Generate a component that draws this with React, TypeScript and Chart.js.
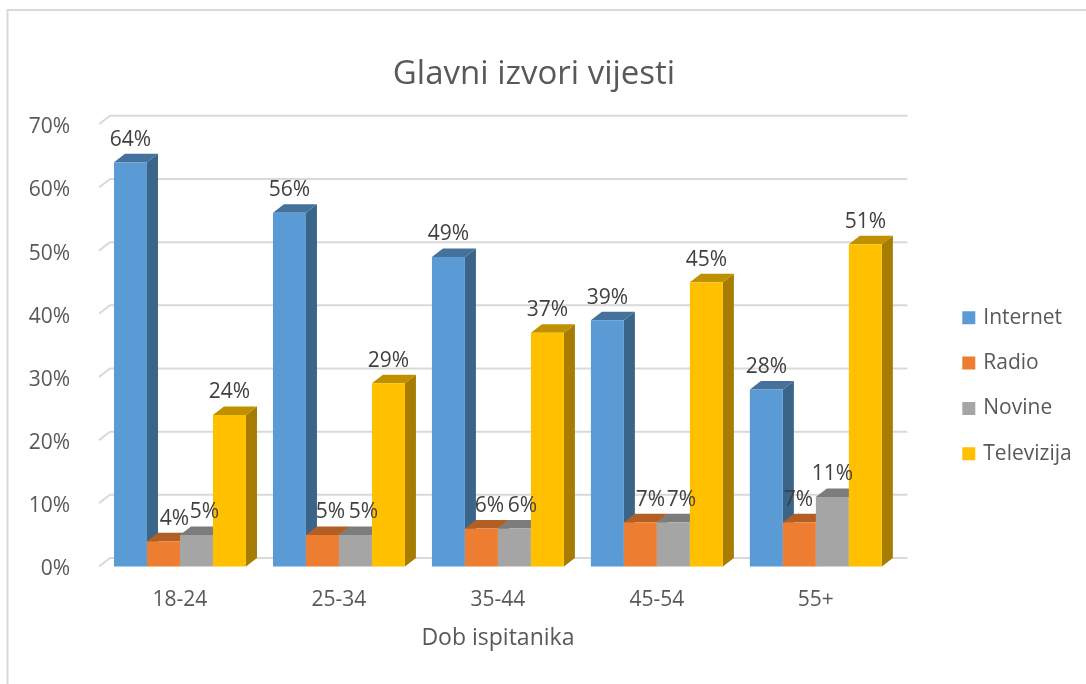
import React, { useEffect, useRef } from "react";
import { Chart, registerables } from "chart.js";

Chart.register(...registerables);

const categories = ["18-24", "25-34", "35-44", "45-54", "55+"];
const internet = [64, 56, 49, 39, 28];
const radio = [4, 5, 6, 7, 7];
const novine = [5, 5, 6, 7, 11];
const televizija = [24, 29, 37, 45, 51];
const seriesNames = ["Internet", "Radio", "Novine", "Televizija"];
const seriesValues = [internet, radio, novine, televizija];

const frontColors = ["#5B9BD5", "#ED7D31", "#A5A5A5", "#FFC000"];
const topColors = ["#44729D", "#B25E25", "#7C7C7C", "#BF9000"];
const sideColors = ["#3B6489", "#9A5120", "#6B6B6B", "#A67D00"];

// Horizontal nudges of the value labels, per series and category (the source chart moved some by hand).
const labelNudges = [
  [0, 0, 0, 0, 0],
  [11, 8, 8, 10, -1],
  [8, 8, 8, 8, 0],
  [0, 0, 0, 0, 0],
];

const FONT = "'Open Sans', 'Noto Sans', sans-serif";
const DX = 11;
const DY = -8.5;

const chart3d = {
  id: "chart3d",
  beforeDraw(chart: any) {
    const { ctx, width, height } = chart;
    ctx.save();
    ctx.fillStyle = "#FFFFFF";
    ctx.fillRect(0, 0, width, height);
    ctx.strokeStyle = "#D9D9D9";
    ctx.lineWidth = 2;
    ctx.beginPath();
    ctx.moveTo(7.5, height);
    ctx.lineTo(7.5, 10);
    ctx.lineTo(width, 10);
    ctx.stroke();
    ctx.restore();
  },
  afterLayout(chart: any) {
    // Title is centred a little left of the canvas centre; legend sits at a fixed spot.
    chart.titleBlock.left = 0;
    chart.titleBlock.right = 1068;
    const lg = chart.legend;
    const w = lg.right - lg.left;
    const h = lg.bottom - lg.top;
    lg.left = 940.5;
    lg.right = 940.5 + w;
    lg.top = 283;
    lg.bottom = 283 + h;
  },
  beforeDatasetsDraw(chart: any) {
    const { ctx, chartArea } = chart;
    const y = chart.scales.y;
    ctx.save();
    ctx.strokeStyle = "#D9D9D9";
    ctx.lineWidth = 2;
    y.ticks.forEach((t: any) => {
      const py = y.getPixelForValue(t.value);
      ctx.beginPath();
      ctx.moveTo(chartArea.left - 1.5, py);
      ctx.lineTo(chartArea.left - 1.5 + DX, py + DY);
      ctx.lineTo(chartArea.right + 12, py + DY);
      ctx.stroke();
    });
    ctx.restore();
  },
  beforeDatasetDraw() {
    return false;
  },
  afterDatasetsDraw(chart: any) {
    const { ctx } = chart;
    const n = chart.data.labels.length;
    for (let c = 0; c < n; c++) {
      chart.data.datasets.forEach((_: any, s: number) => {
        const bar = chart.getDatasetMeta(s).data[c];
        const { x, y, base, width } = bar.getProps(["x", "y", "base", "width"], true);
        const l = x - width / 2;
        const r = x + width / 2;
        ctx.save();
        ctx.fillStyle = sideColors[s];
        ctx.beginPath();
        ctx.moveTo(r, y);
        ctx.lineTo(r + DX, y + DY);
        ctx.lineTo(r + DX, base + DY);
        ctx.lineTo(r, base);
        ctx.closePath();
        ctx.fill();
        ctx.fillStyle = topColors[s];
        ctx.beginPath();
        ctx.moveTo(l, y);
        ctx.lineTo(l + DX, y + DY);
        ctx.lineTo(r + DX, y + DY);
        ctx.lineTo(r, y);
        ctx.closePath();
        ctx.fill();
        ctx.restore();
        bar.draw(ctx, chart.chartArea);
      });
    }
    ctx.save();
    ctx.font = `21px ${FONT}`;
    ctx.fillStyle = "#404040";
    ctx.textAlign = "center";
    ctx.textBaseline = "middle";
    chart.data.datasets.forEach((ds: any, s: number) => {
      chart.getDatasetMeta(s).data.forEach((bar: any, c: number) => {
        const { x, y } = bar.getProps(["x", "y"], true);
        ctx.fillText(`${ds.data[c]}%`, x + labelNudges[s][c], y - 22.5);
      });
    });
    ctx.restore();
  },
};

export default function App() {
  const ref = useRef<HTMLCanvasElement>(null);

  useEffect(() => {
    const chart = new Chart(ref.current as HTMLCanvasElement, {
      type: "bar",
      data: {
        labels: categories,
        datasets: seriesNames.map((name, i) => ({
          label: name,
          data: seriesValues[i],
          backgroundColor: frontColors[i],
          borderWidth: 0,
          categoryPercentage: 132 / 159,
          barPercentage: 1,
        })),
      },
      plugins: [chart3d],
      options: {
        animation: false,
        responsive: false,
        maintainAspectRatio: false,
        layout: { padding: { top: 0, bottom: 30, left: 0, right: 49.5 } },
        plugins: {
          tooltip: { enabled: false },
          title: {
            display: true,
            text: "Glavni izvori vijesti",
            color: "#595959",
            font: { family: FONT, size: 33, weight: "normal" },
            padding: { top: 55.2, bottom: 29.5 },
          },
          legend: {
            position: "right",
            align: "start",
            labels: {
              usePointStyle: true,
              pointStyle: "rect",
              boxWidth: 8,
              boxHeight: 13,
              padding: 24.3,
              color: "#595959",
              font: { family: FONT, size: 21 },
            },
          },
        },
        scales: {
          x: {
            grid: { display: false },
            border: { display: false },
            ticks: { color: "#595959", font: { family: FONT, size: 21 }, padding: 13 },
            title: {
              display: true,
              text: "Dob ispitanika",
              color: "#595959",
              font: { family: FONT, size: 23 },
              padding: { top: 12, bottom: 2 },
            },
            afterFit(scale: any) {
              scale.height = 87.5;
            },
          },
          y: {
            min: 0,
            max: 70,
            grid: { display: false },
            border: { display: false },
            ticks: {
              stepSize: 10,
              color: "#595959",
              font: { family: FONT, size: 21 },
              padding: 22.5,
              labelOffset: 3,
              callback: (v: any) => `${v}%`,
            },
            afterFit(scale: any) {
              scale.width = 100.5;
            },
          },
        },
      },
    } as any);
    return () => chart.destroy();
  }, []);

  return (
    <canvas
      ref={ref}
      width={1086}
      height={684}
      style={{ position: "absolute", left: 0, top: 0, width: 1086, height: 684, display: "block" }}
    />
  );
}
